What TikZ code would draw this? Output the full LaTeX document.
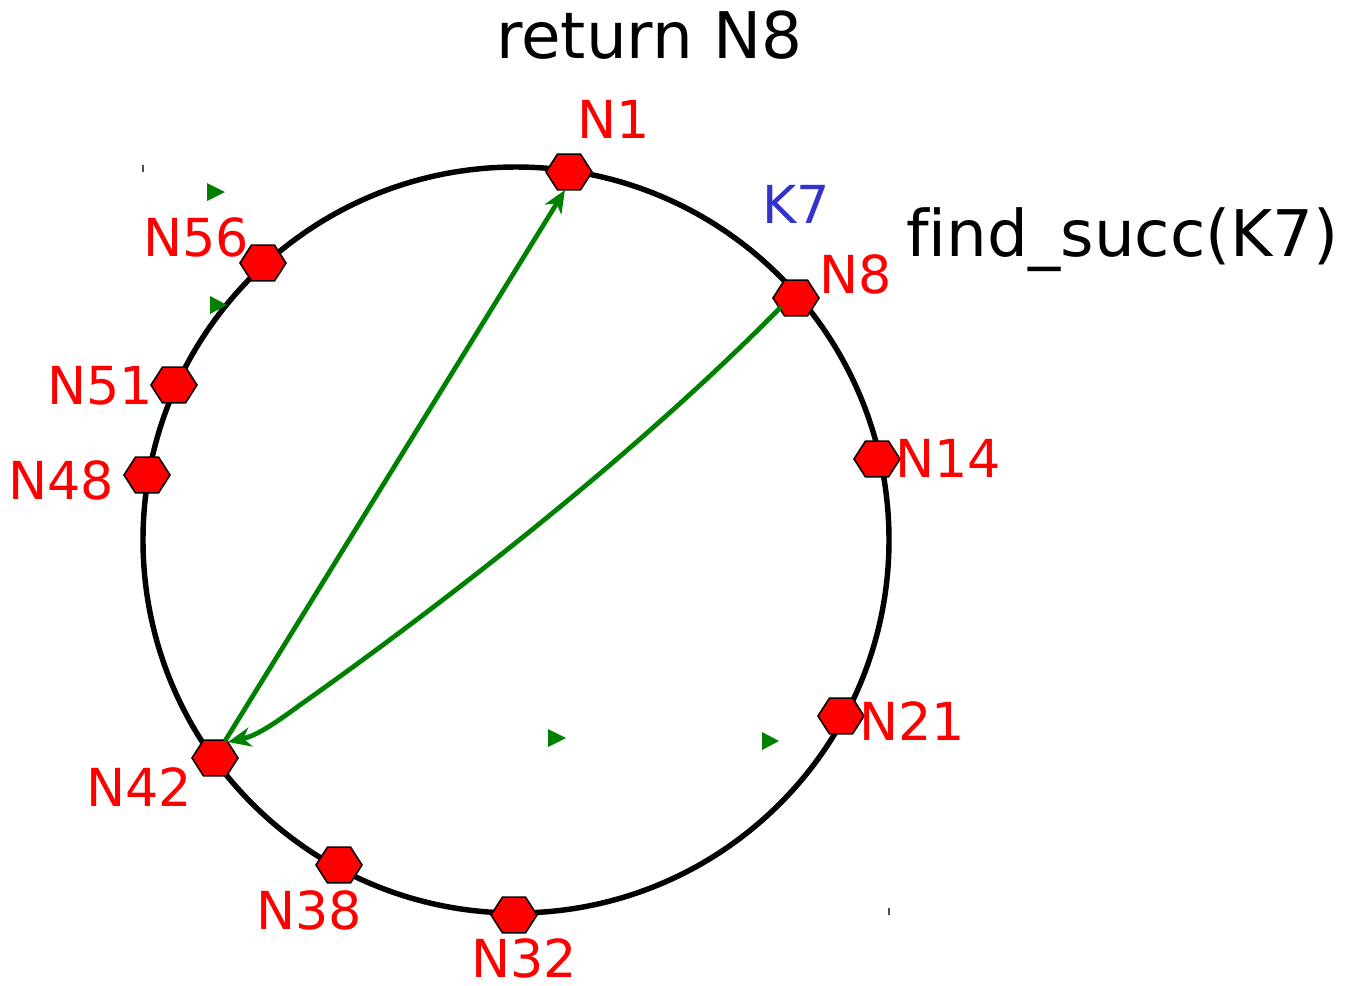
\documentclass[tikz,border=0pt]{standalone}
\usepackage{fontspec}
\setmainfont{DejaVu Sans}[Ligatures={NoCommon}]
\usetikzlibrary{shapes.geometric,arrows.meta}
\definecolor{ngreen}{HTML}{008000}
\definecolor{nred}{HTML}{FF0000}
\definecolor{kblue}{HTML}{3333CC}
\tikzset{
  hexnode/.style={regular polygon, regular polygon sides=6, minimum size=0.92cm, inner sep=0pt,
     draw=black, line width=0.9pt, fill=nred, yscale=0.9, transform shape},
  redlab/.style={text=nred, font=\fontsize{29.8}{34}\selectfont, inner sep=0pt, anchor=base west},
  blacklab/.style={text=black, font=\fontsize{36.6}{43}\selectfont, inner sep=0pt, anchor=base west},
  ring/.style={draw=black, line width=3.1pt},
  fingerarrow/.style={draw=ngreen, line width=2.7pt, -{Stealth[length=13pt,width=11pt,inset=4pt]}},
  marker/.style={fill=ngreen, draw=none},
  tick/.style={draw=black!70, line width=0.8pt}
}
\begin{document}
\begin{tikzpicture}[x=0.02cm,y=-0.02cm]
\useasboundingbox (0,0) rectangle (1350,985);
\draw[ring] (516,540) circle[radius=373];
% nodes
\node[hexnode] (n1) at (569,172) {};
\node[hexnode] (n8) at (796,298) {};
\node[hexnode] (n14) at (877,459) {};
\node[hexnode] (n21) at (841,716) {};
\node[hexnode] (n32) at (514,915) {};
\node[hexnode] (n38) at (339,865) {};
\node[hexnode] (n42) at (215,758) {};
\node[hexnode] (n48) at (147,475) {};
\node[hexnode] (n51) at (174,385) {};
\node[hexnode] (n56) at (263,263) {};
% labels
\node[redlab] (l1) at (577,138) {N1};
\node[redlab] (l8) at (819,293) {N8};
\node[redlab] (l14) at (895,477) {N14};
\node[redlab] (l21) at (859,740) {N21};
\node[redlab] (l32) at (471,977) {N32};
\node[redlab] (l38) at (256,929) {N38};
\node[redlab] (l42) at (86,806) {N42};
\node[redlab] (l48) at (8,499) {N48};
\node[redlab] (l51) at (47,404) {N51};
\node[redlab] (l56) at (143,256) {N56};
\node[redlab, text=kblue] (k7) at (762,223) {K7};
\node[blacklab] (ret) at (496,58) {return N8};
\node[blacklab] (fs) at (906,256) {find\_succ(K7)};
% arrows
\coordinate (a1s) at (225,741);
\coordinate (a1e) at (565,190);
\draw[fingerarrow] (a1s) -- (a1e);
\coordinate (a2s) at (781,307);
\coordinate (a2e) at (228,742);
\draw[fingerarrow] (a2s) .. controls (620,470) and (420,620) .. (300,705) .. controls (270,727) and (255,736) .. (a2e);
% markers
\fill[marker] (207,183) -- (225,192) -- (207,201) -- cycle;
\fill[marker] (210,296) -- (227,305) -- (210,314) -- cycle;
\fill[marker] (548,729) -- (566,738) -- (548,747) -- cycle;
\fill[marker] (762,732) -- (779,741) -- (762,750) -- cycle;
% ticks
\draw[tick] (143,165) -- (143,172);
\draw[tick] (889,908) -- (889,915);
\end{tikzpicture}
\end{document}
